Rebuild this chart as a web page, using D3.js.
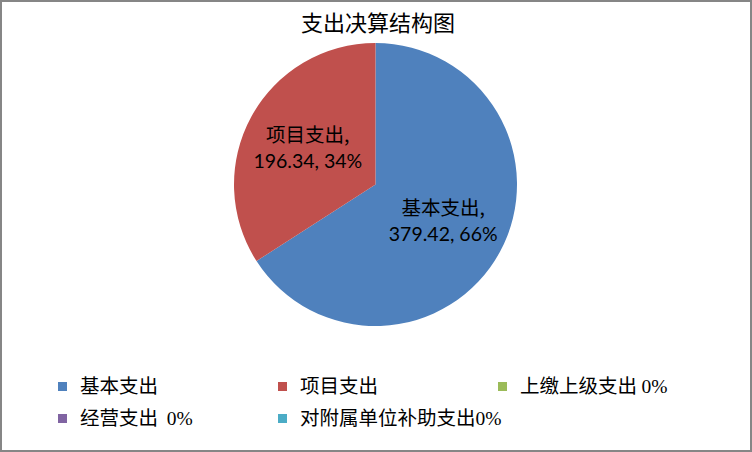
<!DOCTYPE html>
<html>
<head>
<meta charset="utf-8">
<script src="https://cdn.jsdelivr.net/npm/d3@7"></script>
<style>
  body { margin: 0; background: #fff; }
  svg { display: block; }
</style>
</head>
<body>
<div id="chart"></div>
<script>
// data
var categories = ["基本支出", "项目支出", "上缴上级支出", "经营支出", "对附属单位补助支出"];
var values = [379.42, 196.34, 0, 0, 0];
var legendLabels = ["基本支出", "项目支出", "上缴上级支出 0%", "经营支出  0%", "对附属单位补助支出0%"];
var colors = ["#4f81bd", "#c0504d", "#9bbb59", "#8064a2", "#4bacc6"];

var width = 752, height = 452;
var cjk = "'Noto Sans CJK SC', 'Liberation Sans', sans-serif";
var latin = "Lato, 'Liberation Sans', sans-serif";
var serif = "'Liberation Serif', serif";

var svg = d3.select("#chart").append("svg")
    .attr("width", width)
    .attr("height", height);

svg.append("rect")
    .attr("x", 1).attr("y", 1)
    .attr("width", width - 2).attr("height", height - 2)
    .attr("fill", "#fff")
    .attr("stroke", "#868686")
    .attr("stroke-width", 2);

svg.append("text")
    .attr("x", 378)
    .attr("y", 31)
    .attr("text-anchor", "middle")
    .style("font-family", cjk)
    .style("font-size", "22px")
    .text("支出决算结构图");

var cx = 375.5, cy = 184.5, r = 141.5;
var total = d3.sum(values);

var pie = d3.pie().sort(null).value(function(d) { return d; });
var arc = d3.arc().innerRadius(0).outerRadius(r);
var labelArc = d3.arc().innerRadius(r * 0.545).outerRadius(r * 0.545);

var pieGroup = svg.append("g")
    .attr("transform", "translate(" + cx + "," + cy + ")");

var slices = pie(values);

pieGroup.selectAll("path")
    .data(slices.filter(function(d) { return d.value > 0; }))
    .enter().append("path")
    .attr("d", arc)
    .attr("fill", function(d) { return colors[d.index]; });

var labels = pieGroup.selectAll("g.lbl")
    .data(slices.filter(function(d) { return d.value > 0; }))
    .enter().append("g")
    .attr("class", "lbl")
    .attr("transform", function(d) {
        var c = labelArc.centroid(d);
        return "translate(" + c[0] + "," + c[1] + ")";
    });

labels.append("text")
    .attr("text-anchor", "middle")
    .attr("y", -6)
    .style("font-family", cjk)
    .style("font-size", "19.5px")
    .text(function(d) { return categories[d.index] + ","; });

labels.append("text")
    .attr("text-anchor", "middle")
    .attr("y", 20)
    .style("font-family", latin)
    .style("font-size", "19.5px")
    .text(function(d) {
        return d.value.toFixed(2) + ", " + Math.round(d.value / total * 100) + "%";
    });

// legend
var legendX = d3.scalePoint().domain([0, 1, 2]).range([58, 498]);
var legendY = d3.scalePoint().domain([0, 1]).range([386, 418]);

var legend = svg.selectAll("g.legend")
    .data(legendLabels)
    .enter().append("g")
    .attr("class", "legend")
    .attr("transform", function(d, i) {
        return "translate(" + legendX(i % 3) + "," + legendY(Math.floor(i / 3)) + ")";
    });

legend.append("rect")
    .attr("x", 0)
    .attr("y", -4)
    .attr("width", 9)
    .attr("height", 9)
    .attr("fill", function(d, i) { return colors[i]; });

var legendText = legend.append("text")
    .attr("x", 22)
    .attr("y", 7)
    .style("font-family", cjk)
    .style("font-size", "19.5px")
    .style("white-space", "pre");

legendText.append("tspan")
    .text(function(d) { return d.replace(/0%$/, ""); });
legendText.append("tspan")
    .style("font-family", serif)
    .text(function(d) { return /0%$/.test(d) ? "0%" : ""; });
</script>
</body>
</html>
